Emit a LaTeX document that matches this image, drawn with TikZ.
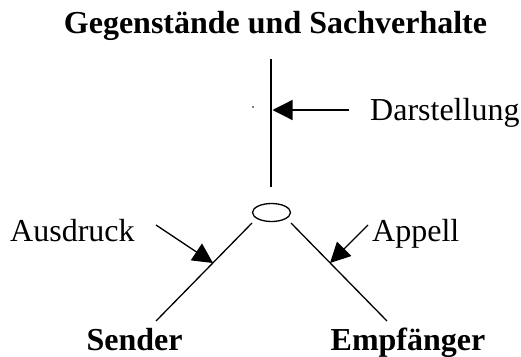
\documentclass[tikz,border=0pt]{standalone}
\usepackage{fontspec}
\setmainfont{Liberation Serif}
\usetikzlibrary{arrows.meta,shapes.geometric}
\tikzset{
  lbl/.style={inner sep=0pt, font=\fontsize{32pt}{36pt}\selectfont},
  blbl/.style={inner sep=0pt, font=\fontsize{32pt}{36pt}\selectfont\bfseries},
  ln/.style={line width=1.3pt},
  arr/.style={line width=1.3pt, -{Triangle[length=20pt,width=20pt]}}
}
\begin{document}
\begin{tikzpicture}[x=1pt,y=-1pt]
\useasboundingbox (0,0) rectangle (521,356);
% texts
\node[blbl, anchor=base] (title) at (275.5,33) {Gegenstände und Sachverhalte};
\node[lbl, anchor=base west] (dar) at (370,120) {Darstellung};
\node[lbl, anchor=base west] (aus) at (10,241) {Ausdruck};
\node[lbl, anchor=base west] (app) at (372,241) {Appell};
\node[blbl, anchor=base] (sender) at (134.5,350) {Sender};
\node[blbl, anchor=base] (empf) at (408,350) {Empfänger};
% ellipse
\node[ellipse, draw, line width=1.3pt, minimum width=38pt, minimum height=18pt, inner sep=0pt] (ell) at (271.5,212.5) {};
% coordinates
\coordinate (vt) at (271,59);
\coordinate (vb) at (271,187);
\coordinate (sl) at (252,223);
\coordinate (sb) at (156,321);
\coordinate (rl) at (291,223);
\coordinate (rb) at (387,321);
\coordinate (d1) at (349,110);
\coordinate (d2) at (272.5,110);
\coordinate (a1) at (156,225);
\coordinate (a1t) at (213,263);
\coordinate (a2) at (368,225);
\coordinate (a2t) at (330,263);
% lines
\draw[ln] (vt) -- (vb);
\draw[ln] (sl) -- (sb);
\draw[ln] (rl) -- (rb);
% arrows
\draw[arr] (d1) -- (d2);
\draw[arr] (a1) -- (a1t);
\draw[arr] (a2) -- (a2t);
% dot
\fill (253,107) circle (0.8pt);
\end{tikzpicture}
\end{document}
